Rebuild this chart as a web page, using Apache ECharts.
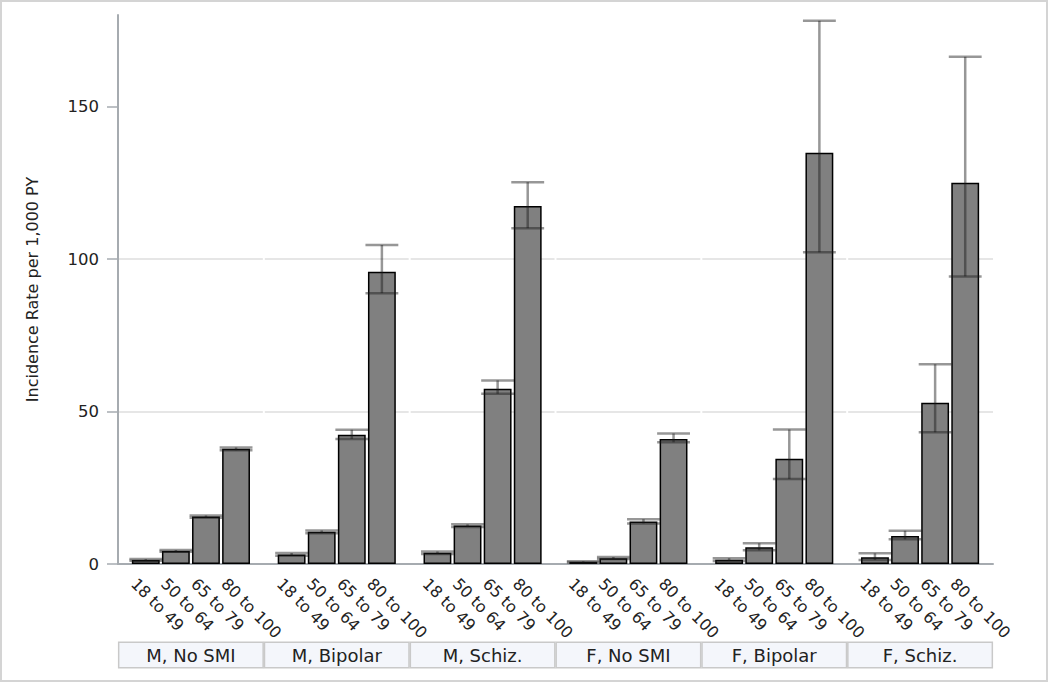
<!DOCTYPE html>
<html>
<head>
<meta charset="utf-8">
<script src="https://cdn.jsdelivr.net/npm/echarts@6/dist/echarts.min.js"></script>
<style>
  html, body { margin: 0; padding: 0; background: #fff; }
  #chart { width: 1050px; height: 684px; }
</style>
</head>
<body>
<div id="chart"></div>
<script>
// groups (sex, SMI status) and age bins
var groups = ['M, No SMI', 'M, Bipolar', 'M, Schiz.', 'F, No SMI', 'F, Bipolar', 'F, Schiz.'];
var ages = ['18 to 49', '50 to 64', '65 to 79', '80 to 100'];

// incidence rate per 1,000 PY, one array per age bin (order of groups)
var rate18 = [1.3, 3.1, 3.7, 0.7, 1.4, 2.2];
var rate50 = [4.3, 10.6, 12.6, 1.9, 5.5, 9.2];
var rate65 = [15.6, 42.4, 57.5, 13.9, 34.5, 52.9];
var rate80 = [37.8, 95.8, 117.4, 41.0, 134.8, 125.0];

// 95% CI lower / upper
var lo18 = [1.1, 2.7, 3.3, 0.5, 1.0, 1.3];
var hi18 = [1.6, 3.6, 4.1, 0.9, 1.9, 3.5];
var lo50 = [4.0, 10.1, 12.1, 1.6, 4.5, 8.1];
var hi50 = [4.6, 11.0, 13.0, 2.3, 6.8, 10.9];
var lo65 = [15.2, 41.0, 55.8, 13.3, 27.9, 43.2];
var hi65 = [15.9, 44.0, 60.2, 14.7, 44.1, 65.5];
var lo80 = [37.3, 88.8, 110.1, 39.9, 102.2, 94.3];
var hi80 = [38.2, 104.6, 125.2, 42.8, 178.1, 166.3];

var yTicks = [0, 50, 100, 150];

var rates = [rate18, rate50, rate65, rate80];
var los = [lo18, lo50, lo65, lo80];
var his = [hi18, hi50, hi65, hi80];

var CAT_GAP = 0.19;   // barCategoryGap
var BAR_GAP = 0.08;   // barGap
var FONT = 'DejaVu Sans';

// layout of the 4 bars inside category g, from the category scale
function barPos(api, g) {
    var c = api.coord([g, 0]);
    var W = api.size([1, 0])[0];
    var usable = W * (1 - CAT_GAP);
    var bw = usable / (4 + 3 * BAR_GAP);
    return { c: c, usable: usable, bw: bw };
}

var errData = [];
var labelData = [];
for (var a = 0; a < 4; a++) {
    for (var g = 0; g < groups.length; g++) {
        errData.push([g, a, los[a][g], his[a][g]]);
        labelData.push([g, a, 0]);
    }
}

var chart = echarts.init(document.getElementById('chart'), null, { renderer: 'svg' });

var series = rates.map(function (r, a) {
    return {
        name: ages[a],
        type: 'bar',
        data: r,
        barCategoryGap: (CAT_GAP * 100) + '%',
        barGap: (BAR_GAP * 100) + '%',
        itemStyle: { color: '#808080', borderColor: '#000', borderWidth: 1.5 },
        emphasis: { disabled: true },
        z: 2
    };
});

// error bars
series.push({
    type: 'custom',
    data: errData,
    encode: { x: 0, y: [2, 3] },
    z: 5,
    silent: true,
    renderItem: function (params, api) {
        var g = api.value(0), a = api.value(1);
        var p = barPos(api, g);
        var x = p.c[0] - p.usable / 2 + a * p.bw * (1 + BAR_GAP) + p.bw / 2;
        var yl = api.coord([g, api.value(2)])[1];
        var yh = api.coord([g, api.value(3)])[1];
        var hw = p.bw / 2 + 2.5;
        var st = { stroke: 'rgba(25,25,25,0.45)', lineWidth: 2.5 };
        return {
            type: 'group',
            children: [
                { type: 'line', shape: { x1: x, y1: yl, x2: x, y2: yh }, style: st },
                { type: 'line', shape: { x1: x - hw, y1: yh, x2: x + hw, y2: yh }, style: st },
                { type: 'line', shape: { x1: x - hw, y1: yl, x2: x + hw, y2: yl }, style: st }
            ]
        };
    }
});

// rotated age labels under each bar
series.push({
    type: 'custom',
    data: labelData,
    encode: { x: 0, y: 2 },
    z: 5,
    silent: true,
    clip: false,
    renderItem: function (params, api) {
        var g = api.value(0), a = api.value(1);
        var p = barPos(api, g);
        var x = p.c[0] - p.usable / 2 + a * p.bw * (1 + BAR_GAP) + p.bw / 2;
        return {
            type: 'text',
            x: x - 12,
            y: p.c[1] + 17,
            rotation: -Math.PI / 4,
            style: {
                text: ages[a],
                fill: '#222',
                fontSize: 16,
                fontFamily: FONT,
                align: 'left',
                verticalAlign: 'middle'
            }
        };
    }
});

// small breaks in the gridlines at group boundaries
series.push({
    type: 'custom',
    data: [[0, 50], [0, 100], [0, 150]],
    encode: { x: 0, y: 1 },
    z: 1,
    silent: true,
    renderItem: function (params, api) {
        var y = api.coord([0, api.value(1)])[1];
        var W = api.size([1, 0])[0];
        var x0 = api.coord([0, 0])[0] - W / 2;
        var kids = [];
        for (var k = 1; k < groups.length; k++) {
            kids.push({
                type: 'rect',
                shape: { x: x0 + k * W - 1, y: y - 2, width: 2, height: 4 },
                style: { fill: '#fff' }
            });
        }
        return { type: 'group', children: kids };
    }
});

var option = {
    animation: false,
    backgroundColor: '#fff',
    grid: { left: 118, right: 57, top: 15, bottom: 120 },
    graphic: [{
        type: 'rect',
        shape: { x: 1, y: 1, width: 1046, height: 680 },
        style: { fill: 'none', stroke: '#d4d4d4', lineWidth: 2 },
        silent: true
    }],
    xAxis: {
        type: 'category',
        data: groups,
        axisLine: { lineStyle: { color: '#a6abb0', width: 2 } },
        axisTick: { show: false },
        splitLine: { show: false },
        axisLabel: {
            interval: 0,
            margin: 79,
            width: 143,
            lineHeight: 24,
            height: 24,
            align: 'center',
            backgroundColor: '#f4f6fb',
            borderColor: '#c9c9c9',
            borderWidth: 1.5,
            color: '#222',
            fontSize: 18,
            fontFamily: FONT
        }
    },
    yAxis: {
        type: 'value',
        min: 0,
        max: 180,
        interval: 50,
        name: 'Incidence Rate per 1,000 PY',
        nameLocation: 'middle',
        nameGap: 78,
        nameTextStyle: { color: '#222', fontSize: 16, fontFamily: FONT },
        axisLine: { show: true, lineStyle: { color: '#a6abb0', width: 2 } },
        axisTick: { show: true, length: 11, customValues: yTicks, lineStyle: { color: '#a6abb0', width: 1.5 } },
        axisLabel: { customValues: yTicks, margin: 19, color: '#222', fontSize: 16.5, fontFamily: FONT },
        splitLine: { show: true, showMinLine: false, showMaxLine: false, lineStyle: { color: '#e6e6e6', width: 2 } }
    },
    series: series
};

chart.setOption(option);
</script>
</body>
</html>
